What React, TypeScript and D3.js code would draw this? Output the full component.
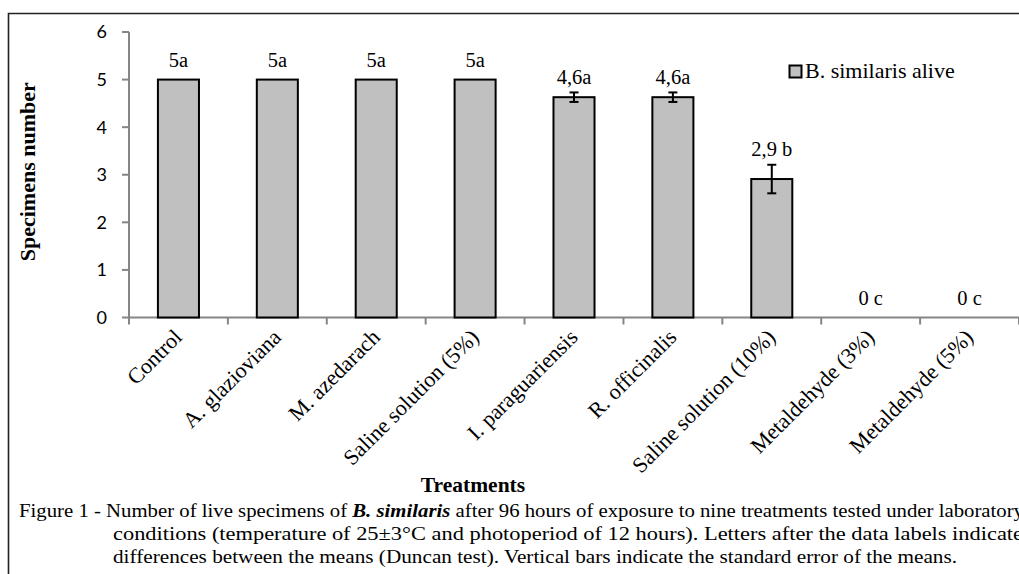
import React from "react";
import * as d3 from "d3";

const categories = [
  "Control",
  "A. glazioviana",
  "M. azedarach",
  "Saline solution (5%)",
  "I. paraguariensis",
  "R. officinalis",
  "Saline solution (10%)",
  "Metaldehyde (3%)",
  "Metaldehyde (5%)",
];
const aliveMeans = [5, 5, 5, 5, 4.63, 4.63, 2.91, 0, 0];
const stdErrors = [0, 0, 0, 0, 0.1, 0.1, 0.3, 0, 0];
const dataLabels = ["5a", "5a", "5a", "5a", "4,6a", "4,6a", "2,9 b", "0 c", "0 c"];
const yTicks = [0, 1, 2, 3, 4, 5, 6];
const seriesName = "B. similaris alive";
const captionLines = [
  "conditions (temperature of 25±3°C and photoperiod of 12 hours). Letters after the data labels indicate",
  "differences between the means (Duncan test). Vertical bars indicate the standard error of the means.",
];

const W = 1019;
const H = 574;
const serif = "'Liberation Serif', 'Times New Roman', serif";
const axisColor = "#868686";

export default function App() {
  const x = d3
    .scaleBand<string>()
    .domain(categories)
    .range([129, 1019])
    .paddingInner(0.585)
    .paddingOuter(0.2925);
  const y = d3.scaleLinear().domain([0, 6]).range([317.5, 32]);
  const step = x.step();
  const x0 = 129;

  return (
    <svg
      width={W}
      height={H}
      style={{ position: "absolute", left: 0, top: 0, background: "#fff" }}
    >
      <rect x={0} y={0} width={W} height={H} fill="#fff" />
      {/* outer border */}
      <path d={`M8.5,${H + 2} V13.5 H${W + 2}`} fill="none" stroke="#222" strokeWidth={1.6} />

      {/* y axis */}
      <line x1={x0} x2={x0} y1={y(6)} y2={y(0)} stroke={axisColor} strokeWidth={2} />
      {yTicks.map((t) => (
        <g key={t}>
          <line x1={x0 - 7} x2={x0} y1={y(t)} y2={y(t)} stroke={axisColor} strokeWidth={2} />
          <text
            x={107}
            y={y(t)}
            dy="0.36em"
            textAnchor="end"
            fontFamily="Lato, 'Open Sans', sans-serif"
            fontSize={18}
            fill="#000"
          >
            {t}
          </text>
        </g>
      ))}

      {/* x axis */}
      <line x1={x0} x2={W} y1={y(0)} y2={y(0)} stroke={axisColor} strokeWidth={2} />
      {d3.range(categories.length + 1).map((i) => (
        <line
          key={i}
          x1={x0 + i * step}
          x2={x0 + i * step}
          y1={y(0)}
          y2={y(0) + 7}
          stroke={axisColor}
          strokeWidth={2}
        />
      ))}

      {/* bars */}
      {categories.map((c, i) => {
        const v = aliveMeans[i];
        const bx = x(c)!;
        const bw = x.bandwidth();
        return v > 0 ? (
          <rect
            key={c}
            x={bx}
            y={y(v)}
            width={bw}
            height={y(0) - y(v)}
            fill="#c0c0c0"
            stroke="#000"
            strokeWidth={2}
          />
        ) : null;
      })}

      {/* error bars */}
      {categories.map((c, i) => {
        const e = stdErrors[i];
        if (!e) return null;
        const cx = x(c)! + x.bandwidth() / 2;
        const v = aliveMeans[i];
        return (
          <g key={c} stroke="#000" strokeWidth={2}>
            <line x1={cx} x2={cx} y1={y(v + e)} y2={y(v - e)} />
            <line x1={cx - 4.5} x2={cx + 4.5} y1={y(v + e)} y2={y(v + e)} />
            <line x1={cx - 4.5} x2={cx + 4.5} y1={y(v - e)} y2={y(v - e)} />
          </g>
        );
      })}

      {/* data labels */}
      {categories.map((c, i) => {
        const cx = x(c)! + x.bandwidth() / 2;
        const v = aliveMeans[i];
        const e = stdErrors[i];
        const by = e ? y(v + e) - 8.5 : y(v) - 12.5;
        return (
          <text
            key={c}
            x={cx}
            y={by}
            textAnchor="middle"
            fontFamily={serif}
            fontSize={20.5}
            fill="#000"
          >
            {dataLabels[i]}
          </text>
        );
      })}

      {/* x tick labels */}
      {categories.map((c) => {
        const cx = x(c)! + x.bandwidth() / 2;
        return (
          <text
            key={c}
            transform={`translate(${cx + 5},${y(0) + 21}) rotate(-45)`}
            textAnchor="end"
            fontFamily={serif}
            fontSize={22}
            fill="#000"
          >
            {c}
          </text>
        );
      })}

      {/* axis titles */}
      <text
        transform={`translate(35,${(y(0) + y(6)) / 2 - 3}) rotate(-90)`}
        textAnchor="middle"
        fontFamily={serif}
        fontWeight="bold"
        fontSize={22}
        fill="#000"
      >
        Specimens number
      </text>
      <text
        x={473}
        y={492}
        textAnchor="middle"
        fontFamily={serif}
        fontWeight="bold"
        fontSize={21.5}
        fill="#000"
      >
        Treatments
      </text>

      {/* legend */}
      <rect x={789.5} y={65.5} width={12} height={12} fill="#c0c0c0" stroke="#000" strokeWidth={2} />
      <text x={805} y={78} fontFamily={serif} fontSize={22} fill="#000">
        {seriesName}
      </text>

      {/* caption */}
      <text
        x={19}
        y={517}
        fontFamily={serif}
        fontSize={19}
        fill="#000"
        textLength={1005}
        lengthAdjust="spacingAndGlyphs"
      >
        Figure 1 - Number of live specimens of{" "}
        <tspan fontWeight="bold" fontStyle="italic">
          B. similaris
        </tspan>{" "}
        after 96 hours of exposure to nine treatments tested under laboratory
      </text>
      <text
        x={113}
        y={540}
        fontFamily={serif}
        fontSize={19}
        fill="#000"
        textLength={910}
        lengthAdjust="spacingAndGlyphs"
      >
        {captionLines[0]}
      </text>
      <text
        x={113}
        y={563}
        fontFamily={serif}
        fontSize={19}
        fill="#000"
        textLength={844}
        lengthAdjust="spacingAndGlyphs"
      >
        {captionLines[1]}
      </text>
    </svg>
  );
}
